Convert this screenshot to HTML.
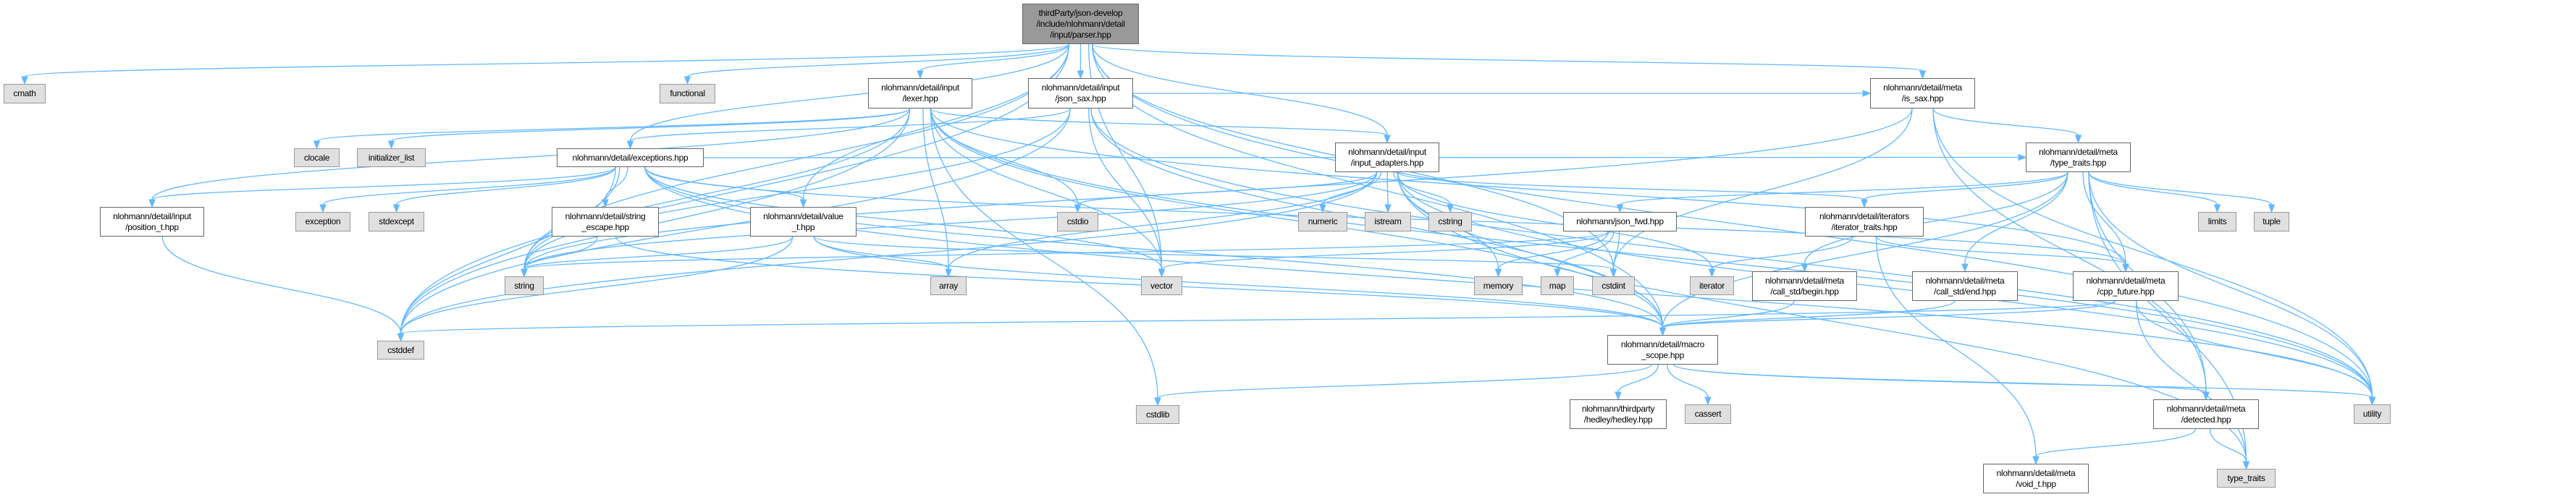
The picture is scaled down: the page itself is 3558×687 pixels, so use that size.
<!DOCTYPE html>
<html><head><meta charset="utf-8"><style>
html,body{margin:0;padding:0;background:#fff;}
body{width:3558px;height:687px;position:relative;overflow:hidden;font-family:"Liberation Sans",Arial,sans-serif;}
svg{position:absolute;left:0;top:0;}
.n{position:absolute;box-sizing:border-box;border:1.5px solid #666;background:#fff;font-size:12px;line-height:15px;color:#000;display:flex;align-items:center;justify-content:center;text-align:center;letter-spacing:-0.3px;white-space:nowrap;}
.g{background:#e0e0e0;border-color:#999;}
.top{background:#999;border-color:#666;}
</style></head><body>
<svg id="s" width="3558" height="687" xmlns="http://www.w3.org/2000/svg"></svg>
<div id="nodes"></div>
<script>
var N={
top:[1412,5,1573,61,'thirdParty/json-develop<br>/include/nlohmann/detail<br>/input/parser.hpp','top'],
cmath:[5,116,63,143,'cmath','g'],
functional:[911,116,988,143,'functional','g'],
lexer:[1199,108,1343,150,'nlohmann/detail/input<br>/lexer.hpp',''],
jsax:[1420,108,1565,150,'nlohmann/detail/input<br>/json_sax.hpp',''],
issax:[2583,108,2728,150,'nlohmann/detail/meta<br>/is_sax.hpp',''],
clocale:[406,205,469,231,'clocale','g'],
initl:[493,205,588,231,'initializer_list','g'],
exc:[769,205,972,231,'nlohmann/detail/exceptions.hpp',''],
ia:[1844,197,1988,238,'nlohmann/detail/input<br>/input_adapters.hpp',''],
tt:[2798,197,2943,238,'nlohmann/detail/meta<br>/type_traits.hpp',''],
pos:[138,286,282,327,'nlohmann/detail/input<br>/position_t.hpp',''],
exception:[408,293,484,320,'exception','g'],
stdexcept:[509,293,586,320,'stdexcept','g'],
sesc:[762,286,910,327,'nlohmann/detail/string<br>_escape.hpp',''],
valt:[1036,286,1183,327,'nlohmann/detail/value<br>_t.hpp',''],
cstdio:[1460,293,1517,320,'cstdio','g'],
numeric:[1793,293,1861,320,'numeric','g'],
istream:[1885,293,1949,320,'istream','g'],
cstring:[1973,293,2033,320,'cstring','g'],
jfwd:[2159,293,2316,320,'nlohmann/json_fwd.hpp',''],
itt:[2493,286,2657,327,'nlohmann/detail/iterators<br>/iterator_traits.hpp',''],
limits:[3036,293,3089,320,'limits','g'],
tuple:[3113,293,3162,320,'tuple','g'],
string:[697,382,751,408,'string','g'],
array:[1285,382,1335,408,'array','g'],
vector:[1576,382,1633,408,'vector','g'],
memory:[2036,382,2103,408,'memory','g'],
map:[2128,382,2174,408,'map','g'],
cstdint:[2199,382,2258,408,'cstdint','g'],
iterator:[2334,382,2395,408,'iterator','g'],
begin:[2420,375,2565,416,'nlohmann/detail/meta<br>/call_std/begin.hpp',''],
end:[2641,375,2787,416,'nlohmann/detail/meta<br>/call_std/end.hpp',''],
cppf:[2863,375,3009,416,'nlohmann/detail/meta<br>/cpp_future.hpp',''],
macro:[2220,463,2373,504,'nlohmann/detail/macro<br>_scope.hpp',''],
cstddef:[521,471,586,497,'cstddef','g'],
hedley:[2168,552,2302,593,'nlohmann/thirdparty<br>/hedley/hedley.hpp',''],
cassert:[2327,559,2391,586,'cassert','g'],
cstdlib:[1569,560,1629,586,'cstdlib','g'],
det:[2974,552,3120,593,'nlohmann/detail/meta<br>/detected.hpp',''],
utility:[3251,559,3302,586,'utility','g'],
voidt:[2739,641,2885,682,'nlohmann/detail/meta<br>/void_t.hpp',''],
typetraits:[3062,648,3143,674,'type_traits','g']
};
var E={
top:['cmath','functional','lexer','jsax','issax','exc','ia','valt','string','vector','cstdint','utility','macro','cstddef'],
lexer:['array','clocale','cstddef','cstdio','cstdlib','initl','string','utility','vector','ia','pos','cppf','macro'],
jsax:['cstddef','string','utility','vector','exc','macro','issax'],
exc:['cstddef','exception','stdexcept','string','utility','vector','valt','sesc','pos','macro','cppf','tt'],
ia:['array','cstddef','cstring','istream','iterator','memory','numeric','string','typetraits','utility','cstdio','itt','macro'],
valt:['array','cstdint','cstddef','string','macro'],
sesc:['string','macro'],
pos:['cstddef'],
issax:['cstdint','utility','string','det','tt'],
tt:['limits','typetraits','utility','tuple','itt','begin','end','cppf','det','jfwd','macro'],
jfwd:['cstdint','map','memory','string','vector'],
itt:['iterator','voidt','cppf'],
begin:['macro'],end:['macro'],
cppf:['cstddef','typetraits','utility','macro'],
macro:['utility','hedley','det','cstdlib','cassert'],
det:['typetraits','voidt']
};
var h='';
for(var k in N){var n=N[k];h+='<div class="n '+n[5]+'" style="left:'+n[0]+'px;top:'+n[1]+'px;width:'+(n[2]-n[0])+'px;height:'+(n[3]-n[1])+'px">'+n[4]+'</div>';}
document.getElementById('nodes').innerHTML=h;
var p='',col='#63b8ff';
function arrow(x,y,dx,dy){var L=Math.hypot(dx,dy)||1;dx/=L;dy/=L;var bx=x-dx*10,by=y-dy*10,px=-dy*4,py=dx*4;
return '<polygon points="'+x+','+y+' '+(bx+px)+','+(by+py)+' '+(bx-px)+','+(by-py)+'" fill="'+col+'" stroke="'+col+'"/>';}
for(var s in E){E[s].forEach(function(t){var a=N[s],b=N[t];
var sx=(a[0]+a[2])/2,tx=(b[0]+b[2])/2,sy,ty,c1x,c1y,c2x,c2y;
if(b[1]>a[3]+5){sy=a[3];ty=b[1];sx=sx+(tx-sx)*0.1*Math.min(1,(a[2]-a[0])/Math.max(1,Math.abs(tx-sx)));
var d=(ty-sy)*0.5;c1x=sx;c1y=sy+d;c2x=tx;c2y=ty-d;}
else if(a[1]>b[3]+5){sy=a[1];ty=b[3];var d=(sy-ty)*0.5;c1x=sx;c1y=sy-d;c2x=tx;c2y=ty+d;}
else{sy=(a[1]+a[3])/2;ty=(b[1]+b[3])/2;if(tx>sx){sx=a[2];tx=b[0];}else{sx=a[0];tx=b[2];}c1x=(sx+tx)/2;c1y=sy;c2x=(sx+tx)/2;c2y=ty;}
var ex=tx-(tx-c2x)*0.0,ey=ty;var dx=tx-c2x,dy=ty-c2y;var L=Math.hypot(dx,dy)||1;
var ax=tx-dx/L*10,ay=ty-dy/L*10;
p+='<path d="M'+sx+','+sy+' C'+c1x+','+c1y+' '+c2x+','+c2y+' '+ax+','+ay+'" fill="none" stroke="'+col+'" stroke-width="1.3"/>';
p+=arrow(tx,ty,dx,dy);});}
document.getElementById('s').innerHTML=p;
</script>
</body></html>
